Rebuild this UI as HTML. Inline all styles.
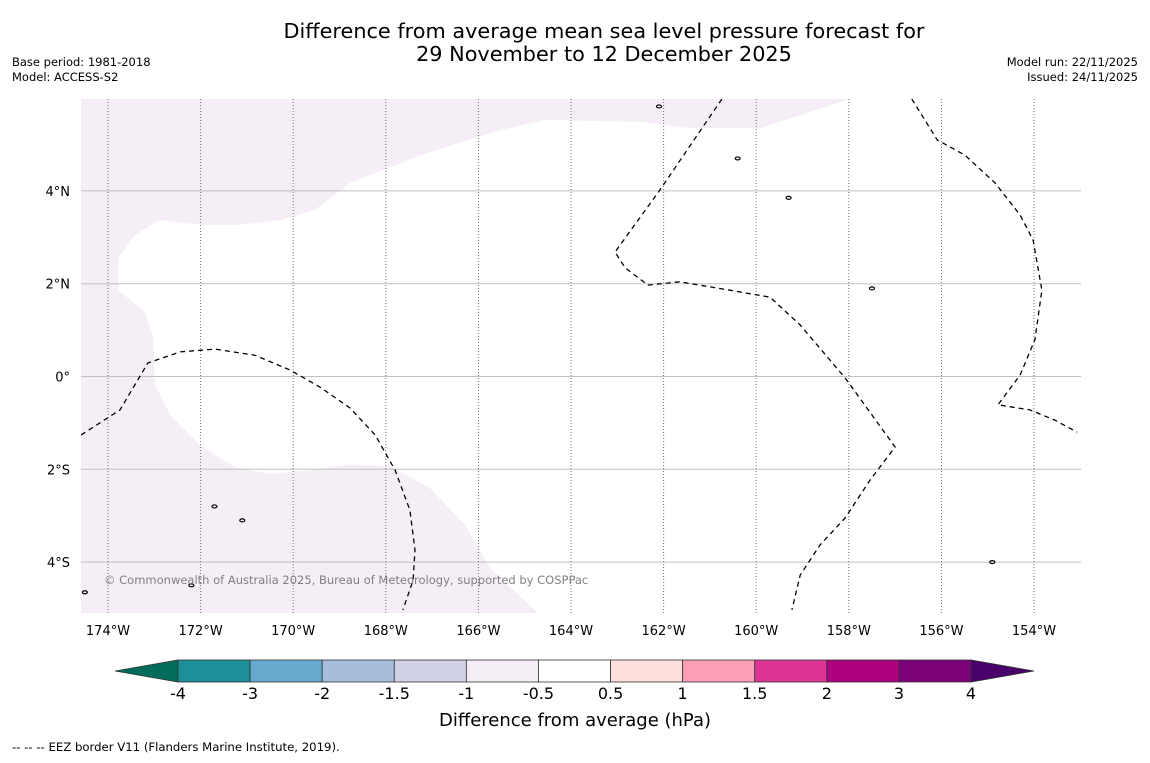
<!DOCTYPE html>
<html><head><meta charset="utf-8"><style>
body{margin:0;background:#fff;font-family:"Liberation Sans","DejaVu Sans",sans-serif}
svg text{font-family:"DejaVu Sans","Liberation Sans",sans-serif}
</style></head><body>
<svg id="c" width="1150" height="758" viewBox="0 0 1150 758" xmlns="http://www.w3.org/2000/svg">
<text x="604" y="38" font-size="20.8" text-anchor="middle">Difference from average mean sea level pressure forecast for</text>
<text x="604" y="61" font-size="20.8" text-anchor="middle">29 November to 12 December 2025</text>
<text x="12" y="66" font-size="11.5">Base period: 1981-2018</text>
<text x="12" y="81" font-size="11.5">Model: ACCESS-S2</text>
<text x="1138" y="66" font-size="11.5" text-anchor="end">Model run: 22/11/2025</text>
<text x="1138" y="81" font-size="11.5" text-anchor="end">Issued: 24/11/2025</text>
<defs><clipPath id="mc"><rect x="81" y="99" width="1000" height="514"/></clipPath></defs>
<g id="map" clip-path="url(#mc)"></g>
<g id="axes"></g>
<text x="104" y="584" font-size="11.5" fill="#808080">© Commonwealth of Australia 2025, Bureau of Meteorology, supported by COSPPac</text>
<g id="cbar"></g>
<text x="575" y="726" font-size="18" text-anchor="middle">Difference from average (hPa)</text>
<text x="12" y="751" font-size="11.7">-- -- -- EEZ border V11 (Flanders Marine Institute, 2019).</text>
</svg>
<script>
const lonTicks=[-174,-172,-170,-168,-166,-164,-162,-160,-158,-156,-154];
const latTicks=[-4,-2,0,2,4];
const shadeLon=[-174.58,-157.97,-159.05,-159.92,-161.43,-162.51,-164.56,-165.53,-167.26,-168.77,-169.53,-170.28,-171.15,-172.01,-172.88,-173.42,-173.78,-173.78,-173.20,-173.03,-172.98,-172.66,-172.01,-171.26,-170.50,-169.64,-168.77,-167.91,-167.05,-166.29,-165.75,-164.71,-174.58];
const shadeLat=[5.98,5.98,5.63,5.35,5.35,5.49,5.53,5.31,4.77,4.17,3.59,3.37,3.27,3.27,3.37,3.05,2.55,1.86,1.39,0.89,-0.18,-0.83,-1.48,-1.95,-2.10,-2.02,-1.89,-1.93,-2.40,-3.20,-4.13,-5.10,-5.10];
const eezALon=[-174.58,-173.74,-173.14,-172.44,-171.69,-170.83,-170.07,-169.42,-168.77,-168.23,-167.80,-167.48,-167.37,-167.41,-167.63];
const eezALat=[-1.26,-0.72,0.29,0.53,0.59,0.46,0.14,-0.23,-0.68,-1.26,-2.02,-2.88,-3.74,-4.39,-5.03];
const eezBLon=[-160.74,-162.08,-163.05,-162.83,-162.34,-161.65,-160.57,-159.70,-159.05,-158.08,-157.00,-157.54,-158.08,-158.62,-159.05,-159.23];
const eezBLat=[5.98,4.02,2.68,2.34,1.97,2.04,1.86,1.71,1.11,-0.03,-1.52,-2.23,-3.05,-3.63,-4.28,-5.03];
const eezCLon=[-156.64,-156.09,-155.49,-154.84,-154.30,-154.02,-153.83,-153.98,-154.30,-154.78,-154.09,-153.55,-153.07];
const eezCLat=[5.98,5.10,4.77,4.17,3.48,2.94,1.86,0.79,0.03,-0.61,-0.72,-0.94,-1.20];
const islandLon=[-159.3,-157.5,-171.7,-172.2,-160.4,-162.1,-154.9,-174.5,-171.1];
const islandLat=[3.85,1.9,-2.8,-4.5,4.7,5.82,-4.0,-4.65,-3.1];
const cbLevels=["-4","-3","-2","-1.5","-1","-0.5","0.5","1","1.5","2","3","4"];
const cbColors=["#1b9098","#67a9cf","#a6bddb","#d0d1e6","#f5eef6","#ffffff","#fde0dd","#fa9fb5","#dd3497","#ae017e","#7a0177"];
const NS="http://www.w3.org/2000/svg";
const X=lon=>108+(lon+174)*46.3;
const Y=lat=>376.5-lat*46.4;
function mk(t,a,p){const e=document.createElementNS(NS,t);for(const k in a)e.setAttribute(k,a[k]);p.appendChild(e);return e;}
const map=document.getElementById('map'),axes=document.getElementById('axes'),cb=document.getElementById('cbar');
const pts=(lo,la)=>lo.map((v,i)=>X(v).toFixed(1)+','+Y(la[i]).toFixed(1)).join(' ');
let sh=mk('polygon',{points:pts(shadeLon,shadeLat),fill:'#f5eef6'},map);


latTicks.forEach(l=>{let g=mk('line',{x1:81,x2:1081,y1:Y(l),y2:Y(l),stroke:'#c0c0c0','stroke-width':1},map);


let t=mk('text',{x:70,y:Y(l)+5,'font-size':13,'text-anchor':'end'},axes);


t.textContent=l===0?'0°':Math.abs(l)+'°'+(l>0?'N':'S');});
lonTicks.forEach(l=>{let g=mk('line',{x1:X(l),x2:X(l),y1:99,y2:613,stroke:'#707070','stroke-width':1,'stroke-dasharray':'1,2'},map);


let t=mk('text',{x:X(l),y:635,'font-size':13,'text-anchor':'middle'},axes);


t.textContent=Math.abs(l)+'°W';});
[[eezALon,eezALat],[eezBLon,eezBLat],[eezCLon,eezCLat]].forEach(([a,b])=>{let p=mk('polyline',{points:pts(a,b),fill:'none',stroke:'#000','stroke-width':1.3,'stroke-dasharray':'5,4'},map);

});
islandLon.forEach((v,i)=>{let e=mk('ellipse',{cx:X(v),cy:Y(islandLat[i]),rx:2.5,ry:1.5,fill:'none',stroke:'#000','stroke-width':1.2},map);

});
const cx0=178,cw=(971-178)/cbColors.length,cy=660,ch=22;
let tl=mk('polygon',{points:`115,${cy+ch/2} ${cx0},${cy} ${cx0},${cy+ch}`,fill:'#016c59',stroke:'#333','stroke-width':0.8},cb);


let tr=mk('polygon',{points:`1034,${cy+ch/2} 971,${cy} 971,${cy+ch}`,fill:'#49006a',stroke:'#333','stroke-width':0.8},cb);


cbColors.forEach((c,i)=>{let r=mk('rect',{x:cx0+i*cw,y:cy,width:cw,height:ch,fill:c,stroke:'#333','stroke-width':0.8},cb);

});
cbLevels.forEach((s,i)=>{let t=mk('text',{x:cx0+i*cw,y:699,'font-size':16,'text-anchor':'middle'},cb);


t.textContent=s;});
</script>
</body></html>
